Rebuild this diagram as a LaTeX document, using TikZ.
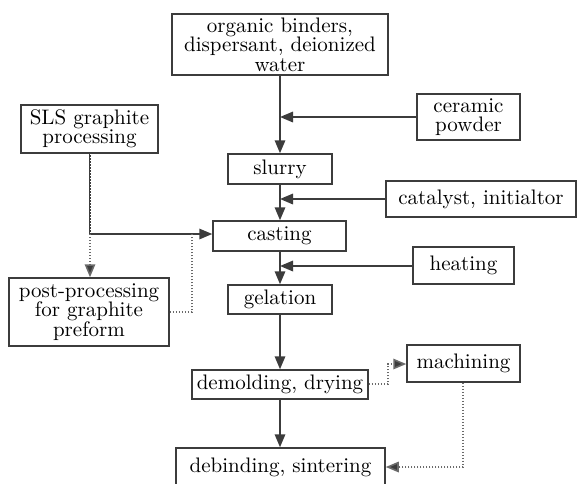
\documentclass[tikz,border=0pt]{standalone}
\usepackage{fontspec}
\setmainfont{lmroman10-regular.otf}
\usetikzlibrary{arrows.meta}
\begin{document}
\begin{tikzpicture}[x=1pt,y=-1pt,
  box/.style={draw=linec, line width=1.5pt, rectangle, inner sep=0pt, align=center,
    font=\fontsize{21}{19.5}\selectfont, text=black},
  flow/.style={draw=linec, line width=1.7pt, -{Triangle[length=13pt,width=10.5pt]}},
  plain/.style={draw=linec, line width=1.7pt},
  dots/.style={draw=dotc, line width=1.6pt, dash pattern=on 1.3pt off 1.7pt},
  dotarrow/.style={dots, -{Triangle[length=13pt,width=10.5pt,fill=linec]}}
]
\definecolor{linec}{HTML}{3C3C3C}
\definecolor{dotc}{HTML}{6A6A6A}
\useasboundingbox (0,0) rectangle (577,483);
\clip (0,0) rectangle (577,483);
\fill[white] (0,0) rectangle (577,483);

\node[box, minimum width=216pt, minimum height=61pt] (top) at (280,44.5) {organic binders,\\dispersant, deionized\\water};
\node[box, minimum width=103pt, minimum height=46pt] (cer) at (468.5,117) {ceramic\\powder};
\node[box, minimum width=104pt, minimum height=30pt] (slurry) at (280,169) {slurry};
\node[box, minimum width=190pt, minimum height=36pt] (cat) at (481,199) {catalyst, initialtor};
\node[box, minimum width=133pt, minimum height=30pt] (cast) at (279.5,236) {casting};
\node[box, minimum width=137pt, minimum height=48pt] (sls) at (89.5,129) {SLS graphite\\processing};
\node[box, minimum width=160pt, minimum height=68pt] (post) at (89,312) {post-processing\\for graphite\\preform};
\node[box, minimum width=101pt, minimum height=37pt] (heat) at (463.5,265.5) {heating};
\node[box, minimum width=104pt, minimum height=29pt] (gel) at (280,299.5) {gelation};
\node[box, minimum width=176pt, minimum height=29pt] (dem) at (280,384.5) {demolding, drying};
\node[box, minimum width=113pt, minimum height=37pt] (mach) at (463.5,363.5) {machining};
\node[box, minimum width=209pt, minimum height=46pt] (deb) at (280.5,471) {};
\node[font=\fontsize{21}{19.5}\selectfont, inner sep=0pt] (debt) at (280.5,467) {debinding, sintering};

% main chain
\draw[flow] (top.south) -- (slurry.north);
\draw[flow] (slurry.south) -- (cast.north -| slurry.south);
\draw[flow] (cast.south -| gel.north) -- (gel.north);
\draw[flow] (gel.south) -- (dem.north);
\draw[flow] (dem.south) -- (deb.north -| dem.south);

% side inputs
\coordinate (j1) at (280,117);
\coordinate (j2) at (280,199);
\coordinate (j3) at (280,266);
\draw[flow] (cer.west) -- (j1);
\draw[flow] (cat.west) -- (j2);
\draw[flow] (heat.west |- j3) -- (j3);

% graphite branch
\coordinate (g1) at (90,234);
\coordinate (g2) at (192,234);
\coordinate (g3) at (192,312);
\draw[plain] (sls.south -| g1) -- (g1);
\draw[dots, draw=white, line width=0.6pt] (sls.south -| g1) -- (g1);
\draw[flow] (g1) -- (cast.west |- g1);
\draw[dotarrow] (g1) -- (post.north -| g1);
\draw[dots] (post.east |- g3) -- (g3) -- (g2);

% machining branch
\coordinate (m1) at (388,384);
\coordinate (m2) at (388,364);
\coordinate (m3) at (463,467);
\draw[dotarrow] (dem.east |- m1) -- (m1) -- (m2) -- (mach.west |- m2);
\draw[dotarrow] (mach.south -| m3) -- (m3) -- (deb.east |- m3);
\end{tikzpicture}
\end{document}
